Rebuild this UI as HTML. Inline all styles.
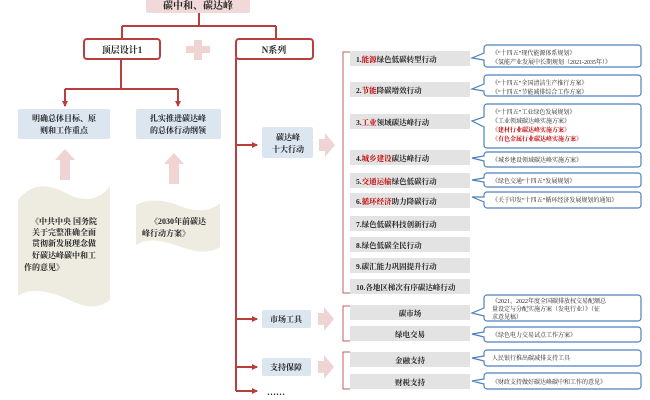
<!DOCTYPE html>
<html><head><meta charset="utf-8"><style>
html,body{margin:0;padding:0;background:#fff;width:650px;height:400px;overflow:hidden}
svg{display:block}
text{font-family:"Liberation Serif","Noto Serif CJK SC",serif;font-weight:bold;fill:#222}
</style></head><body>
<svg width="650" height="400" viewBox="0 0 650 400" xmlns="http://www.w3.org/2000/svg">
<defs>
<marker id="ar" markerWidth="6" markerHeight="6" refX="5" refY="3" orient="auto" markerUnits="userSpaceOnUse"><path d="M0,0 L6,3 L0,6 z" fill="#b7403d"/></marker>
</defs>
<g stroke="#b7403d" stroke-width="2" fill="none">
<!-- title connectors -->
<path d="M199,13 V26 M122,26 H276 M122,26 V38 M276,26 V38"/>
<path d="M121,59 V89 M65,89 H178"/>
<path d="M65,89 V106" marker-end="url(#ar)"/>
<path d="M178,89 V106" marker-end="url(#ar)"/>
<path d="M236,58 V391"/>
<path d="M236,145 H257" marker-end="url(#ar)"/>
<path d="M236,319 H257" marker-end="url(#ar)"/>
<path d="M236,367 H257" marker-end="url(#ar)"/>
<path d="M236,391 H257" marker-end="url(#ar)"/>
</g>
<!-- title -->
<rect x="146" y="-3" width="104" height="16" rx="2" fill="#f2d9d9"/>
<text x="198" y="9" font-size="10" text-anchor="middle">碳中和、碳达峰</text>
<rect x="84" y="39" width="76" height="20" rx="3" fill="#fff" stroke="#b7403d" stroke-width="2"/>
<text x="122" y="53" font-size="9" text-anchor="middle">顶层设计1</text>
<rect x="236" y="39" width="77" height="20" rx="3" fill="#fff" stroke="#b7403d" stroke-width="2"/>
<text x="274" y="53" font-size="9" text-anchor="middle">N系列</text>
<path d="M194,40 h8 v6 h8 v7 h-8 v7 h-8 v-7 h-8 v-7 h8 z" fill="#f0d3d3"/>
<!-- blue boxes -->
<rect x="18" y="109" width="92" height="30" rx="2" fill="#dce6f1"/>
<text x="64" y="121" font-size="8" text-anchor="middle">明确总体目标、原</text>
<text x="64" y="133" font-size="8" text-anchor="middle">则和工作重点</text>
<rect x="136" y="109" width="85" height="30" rx="2" fill="#dce6f1"/>
<text x="178" y="121" font-size="8" text-anchor="middle">扎实推进碳达峰</text>
<text x="178" y="133" font-size="8" text-anchor="middle">的总体行动纲领</text>
<!-- pink up arrows -->
<path d="M65,149 L75,160 H70 V180 H60 V160 H55 z" fill="#f0d3d3"/>
<path d="M174,153 L184,164 H179 V184 H169 V164 H164 z" fill="#f0d3d3"/>
<!-- flags -->
<path d="M18,200 C35,180 50,185 70,195 C85,202 100,200 110,186 V300 C95,312 80,305 65,298 C45,290 30,288 18,296 z" fill="#eeece1"/>
<text x="64" y="224" font-size="8" text-anchor="middle">《中共中央 国务院</text>
<text x="64" y="235" font-size="8" text-anchor="middle">关于完整准确全面</text>
<text x="64" y="246" font-size="8" text-anchor="middle">贯彻新发展理念做</text>
<text x="64" y="258" font-size="8" text-anchor="middle">好碳达峰碳中和工</text>
<text x="24" y="270" font-size="8">作的意见》</text>
<path d="M136,205 C150,198 165,200 180,206 C195,212 210,212 220,203 V247 C205,256 190,250 175,245 C160,240 148,238 136,245 z" fill="#eeece1"/>
<text x="178" y="224" font-size="8" text-anchor="middle">《2030年前碳达</text>
<text x="142" y="236" font-size="8">峰行动方案》</text>
<!-- N branch boxes -->
<rect x="262" y="127" width="51" height="31" rx="2" fill="#dce6f1"/>
<text x="288" y="140" font-size="8" text-anchor="middle">碳达峰</text>
<text x="288" y="152" font-size="8" text-anchor="middle">十大行动</text>
<rect x="262" y="310" width="49" height="18" rx="2" fill="#dce6f1"/>
<text x="286" y="322" font-size="8" text-anchor="middle">市场工具</text>
<rect x="262" y="358" width="49" height="18" rx="2" fill="#dce6f1"/>
<text x="286" y="370" font-size="8" text-anchor="middle">支持保障</text>
<text x="276" y="395" font-size="9" text-anchor="middle">……</text>
<!-- pink right arrows -->
<path d="M319,139 H325 V133 L335,145 L325,157 V151 H319 z" fill="#f0d3d3"/>
<path d="M318,313 H324 V307 L334,319 L324,331 V325 H318 z" fill="#f0d3d3"/>
<path d="M318,361 H324 V355 L334,367 L324,379 V373 H318 z" fill="#f0d3d3"/>
<!-- brackets -->
<g stroke="#c0605d" stroke-width="1" fill="none">
<path d="M350,52 H343 V293 H350"/>
<path d="M350,306 H343 V341 H350"/>
<path d="M350,352 H343 V389 H350"/>
</g>
<!-- gray rows -->
<g fill="#e3e3e3">
<rect x="350" y="51" width="120" height="15"/>
<rect x="350" y="82" width="120" height="15"/>
<rect x="350" y="114" width="120" height="15"/>
<rect x="350" y="150" width="120" height="15"/>
<rect x="350" y="173" width="120" height="15"/>
<rect x="350" y="193" width="120" height="15"/>
<rect x="350" y="216" width="120" height="15"/>
<rect x="350" y="237" width="120" height="15"/>
<rect x="350" y="258" width="120" height="15"/>
<rect x="350" y="279" width="120" height="15"/>
<rect x="350" y="305" width="120" height="15"/>
<rect x="350" y="326" width="120" height="15"/>
<rect x="350" y="352" width="120" height="15"/>
<rect x="350" y="374" width="120" height="15"/>
</g>
<g font-size="7.5">
<text x="356" y="62">1.<tspan fill="#c00000" style="fill:#c00000">能源</tspan>绿色低碳转型行动</text>
<text x="356" y="93">2.<tspan style="fill:#c00000">节能</tspan>降碳增效行动</text>
<text x="356" y="125">3.<tspan style="fill:#c00000">工业</tspan>领域碳达峰行动</text>
<text x="356" y="161">4.<tspan style="fill:#c00000">城乡建设</tspan>碳达峰行动</text>
<text x="356" y="184">5.<tspan style="fill:#c00000">交通运输</tspan>绿色低碳行动</text>
<text x="356" y="204">6.<tspan style="fill:#c00000">循环经济</tspan>助力降碳行动</text>
<text x="356" y="227">7.绿色低碳科技创新行动</text>
<text x="356" y="248">8.绿色低碳全民行动</text>
<text x="356" y="269">9.碳汇能力巩固提升行动</text>
<text x="356" y="290">10.各地区梯次有序碳达峰行动</text>
<text x="410" y="316" text-anchor="middle">碳市场</text>
<text x="410" y="337" text-anchor="middle">绿电交易</text>
<text x="410" y="363" text-anchor="middle">金融支持</text>
<text x="410" y="385" text-anchor="middle">财税支持</text>
</g>
<!-- callouts -->
<g fill="#fff" stroke="#4f81bd" stroke-width="1.2">
<path d="M487,45 H638 a3,3 0 0 1 3,3 V64 a3,3 0 0 1 -3,3 H487 a3,3 0 0 1 -3,-3 V60 L472,58 L484,53 V48 a3,3 0 0 1 3,-3 z"/>
<path d="M487,75 H638 a3,3 0 0 1 3,3 V93 a3,3 0 0 1 -3,3 H487 a3,3 0 0 1 -3,-3 V91 L472,89 L484,84 V78 a3,3 0 0 1 3,-3 z"/>
<path d="M487,104 H638 a3,3 0 0 1 3,3 V145 a3,3 0 0 1 -3,3 H487 a3,3 0 0 1 -3,-3 V127 L472,121 L484,117 V107 a3,3 0 0 1 3,-3 z"/>
<path d="M487,152 H638 a3,3 0 0 1 3,3 V164 a3,3 0 0 1 -3,3 H487 a3,3 0 0 1 -3,-3 V161 L472,158 L484,156 V155 a3,3 0 0 1 3,-3 z"/>
<path d="M487,173 H638 a3,3 0 0 1 3,3 V184 a3,3 0 0 1 -3,3 H487 a3,3 0 0 1 -3,-3 V182 L472,180 L484,178 V176 a3,3 0 0 1 3,-3 z"/>
<path d="M487,192 H638 a3,3 0 0 1 3,3 V205 a3,3 0 0 1 -3,3 H487 a3,3 0 0 1 -3,-3 V202 L472,197 L484,197 V195 a3,3 0 0 1 3,-3 z"/>
<path d="M487,295 H638 a3,3 0 0 1 3,3 V318 a3,3 0 0 1 -3,3 H487 a3,3 0 0 1 -3,-3 V316 L472,313 L484,308 V298 a3,3 0 0 1 3,-3 z"/>
<path d="M487,327 H638 a3,3 0 0 1 3,3 V339 a3,3 0 0 1 -3,3 H487 a3,3 0 0 1 -3,-3 V337 L472,334 L484,332 V330 a3,3 0 0 1 3,-3 z"/>
<path d="M487,350 H638 a3,3 0 0 1 3,3 V363 a3,3 0 0 1 -3,3 H487 a3,3 0 0 1 -3,-3 V361 L472,358 L484,356 V353 a3,3 0 0 1 3,-3 z"/>
<path d="M487,373 H638 a3,3 0 0 1 3,3 V386 a3,3 0 0 1 -3,3 H487 a3,3 0 0 1 -3,-3 V384 L472,381 L484,379 V376 a3,3 0 0 1 3,-3 z"/>
</g>
<g font-size="6" style="font-weight:normal">
<text x="492" y="55" style="font-weight:normal">《“十四五”现代能源体系规划》</text>
<text x="492" y="64" style="font-weight:normal">《氢能产业发展中长期规划（2021-2035年）》</text>
<text x="492" y="85" style="font-weight:normal">《“十四五”全国清洁生产推行方案》</text>
<text x="492" y="94" style="font-weight:normal">《“十四五”节能减排综合工作方案》</text>
<text x="492" y="114" style="font-weight:normal">《“十四五”工业绿色发展规划》</text>
<text x="492" y="123" style="font-weight:normal">《工业领域碳达峰实施方案》</text>
<text x="492" y="132" style="fill:#c00000">《建材行业碳达峰实施方案》</text>
<text x="492" y="141" style="fill:#c00000">《有色金属行业碳达峰实施方案》</text>
<text x="492" y="162" style="font-weight:normal">《城乡建设领域碳达峰实施方案》</text>
<text x="492" y="183" style="font-weight:normal">《绿色交通“十四五”发展规划》</text>
<text x="492" y="202" style="font-weight:normal">《关于印发“十四五”循环经济发展规划的通知》</text>
<text x="492" y="303" style="font-weight:normal">《2021、2022年度全国碳排放权交易配额总</text>
<text x="492" y="311" style="font-weight:normal">量设定与分配实施方案（发电行业）》（征</text>
<text x="492" y="319" style="font-weight:normal">求意见稿）</text>
<text x="492" y="337" style="font-weight:normal">《绿色电力交易试点工作方案》</text>
<text x="492" y="360" style="font-weight:normal">人民银行推出碳减排支持工具</text>
<text x="492" y="384" style="font-weight:normal">《财政支持做好碳达峰碳中和工作的意见》</text>
</g>
</svg>
</body></html>
